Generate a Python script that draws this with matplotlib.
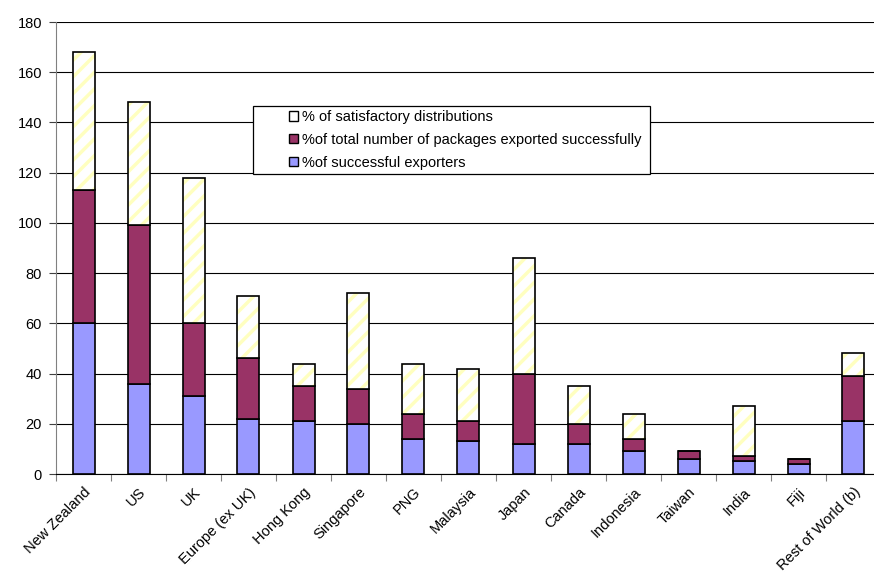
import numpy as np
import matplotlib.pyplot as plt
from matplotlib.patches import Patch, Rectangle

plt.rcParams['font.family'] = ['Liberation Sans', 'DejaVu Sans']
plt.rcParams['hatch.linewidth'] = 2.5

countries = ['New Zealand', 'US', 'UK', 'Europe (ex UK)', 'Hong Kong', 'Singapore',
             'PNG', 'Malaysia', 'Japan', 'Canada', 'Indonesia', 'Taiwan', 'India',
             'Fiji', 'Rest of World (b)']
exporters = [60, 36, 31, 22, 21, 20, 14, 13, 12, 12, 9, 6, 5, 4, 21]
packages = [53, 63, 29, 24, 14, 14, 10, 8, 28, 8, 5, 3, 2, 2, 18]
satisfactory = [55, 49, 58, 25, 9, 38, 20, 21, 46, 15, 10, 0, 20, 0, 9]

W, H = 874, 574
fig = plt.figure(figsize=(W / 100, H / 100), dpi=100)
# axes run past the right edge of the image, as in the original
ax = fig.add_axes([56 / W, 100 / H, 825 / W, 452 / H])

x = np.arange(len(countries))
w = 0.4
exp = np.array(exporters)
pk = np.array(packages)
sat = np.array(satisfactory)

ax.bar(x, exp, w, color='#9999FF', edgecolor='black', linewidth=1.2, zorder=3)
ax.bar(x, pk, w, bottom=exp, color='#993366', edgecolor='black', linewidth=1.2, zorder=3)
# hatched top segment: pale yellow stripes, then black outline
ax.bar(x, sat, w, bottom=exp + pk, color='white', edgecolor='#FFFFC0', hatch='//',
       linewidth=0, zorder=3)
ax.bar(x, sat, w, bottom=exp + pk, fill=False, edgecolor='black', linewidth=1.2, zorder=4)

ax.set_ylim(0, 180)
ax.set_xlim(-0.5, len(countries) - 0.5)
ax.set_yticks(range(0, 181, 20))
ax.yaxis.grid(True, color='black', linewidth=0.8)
ax.set_axisbelow(True)
ax.set_xticks(np.arange(len(countries) + 1) - 0.5)
ax.set_xticklabels([])
ax.set_xticks(x, minor=True)
ax.set_xticklabels(countries, minor=True, rotation=45, ha='right', rotation_mode='anchor',
                   fontsize=10.5)
ax.tick_params(axis='x', which='minor', length=0, pad=8)
ax.tick_params(axis='x', which='major', length=5, direction='out', color='#808080')
ax.tick_params(axis='y', labelsize=10.5, length=5, color='#404040', pad=5)
for s in ['top', 'right']:
    ax.spines[s].set_visible(False)
ax.spines['left'].set_color('#808080')
ax.spines['bottom'].set_color('black')

# legend box drawn separately: the original has a wide empty margin on the left
fig.patches.append(Rectangle((253 / W, 1 - 174 / H), 397 / W, 68 / H,
                             transform=fig.transFigure, facecolor='white',
                             edgecolor='black', linewidth=0.9, zorder=5))

handles = [Patch(facecolor='white', edgecolor='black'),
           Patch(facecolor='#993366', edgecolor='black'),
           Patch(facecolor='#9999FF', edgecolor='black')]
labels = ['% of satisfactory distributions',
          '%of total number of packages exported successfully',
          '%of successful exporters']
leg = fig.legend(handles, labels, loc='upper left', bbox_to_anchor=(289 / W, 1 - 110 / H),
                 bbox_transform=fig.transFigure, fontsize=10.5, frameon=False,
                 handlelength=0.65, handleheight=0.65, handletextpad=0.25,
                 borderpad=0, labelspacing=0.6, borderaxespad=0)
leg.set_zorder(6)

fig.savefig('out.png', dpi=100)
